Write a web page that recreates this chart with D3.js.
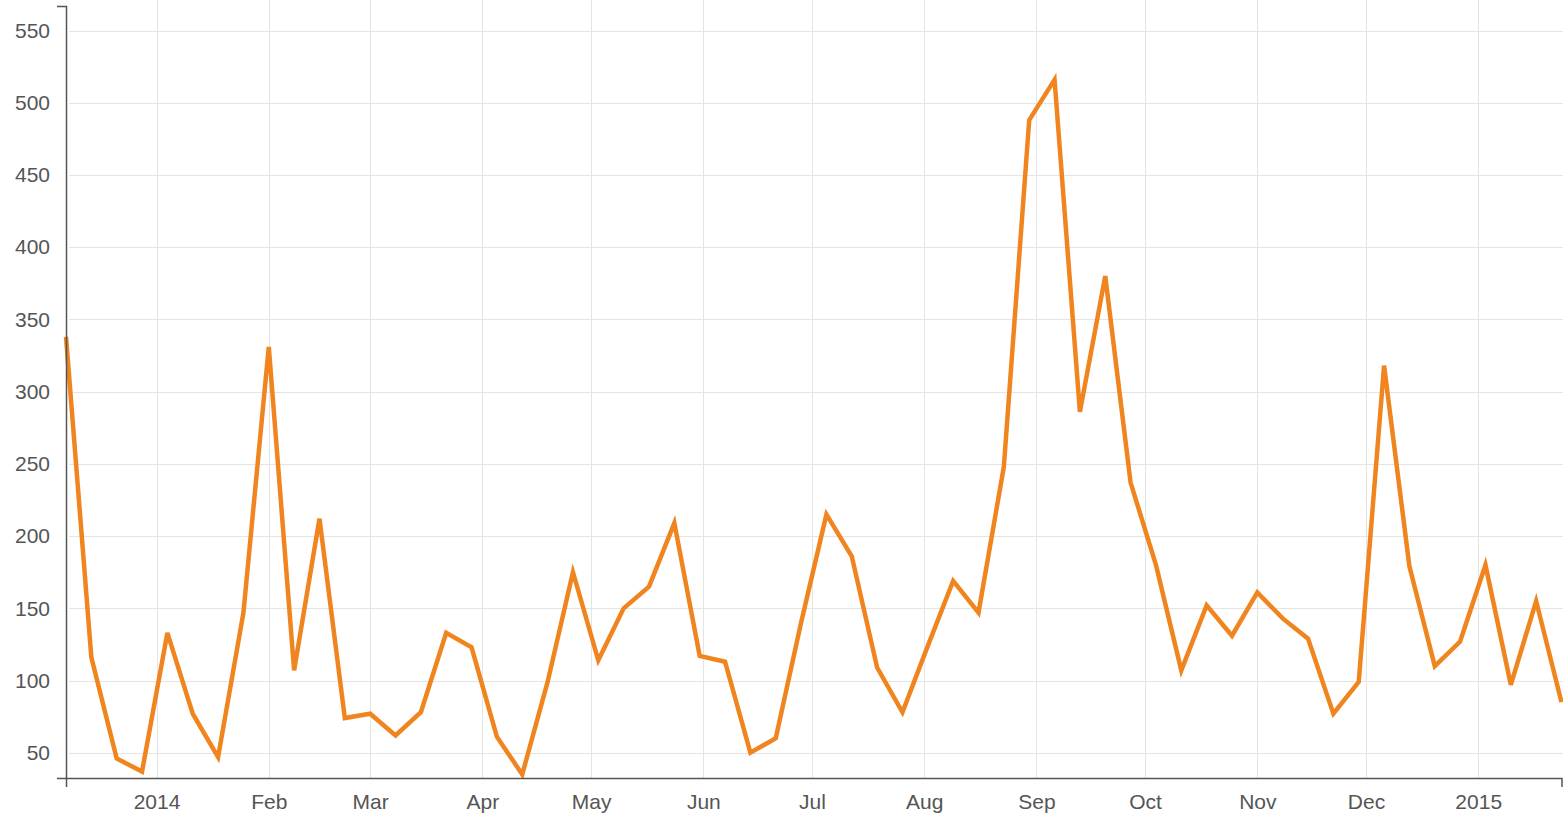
<!DOCTYPE html>
<html>
<head>
<meta charset="utf-8">
<script src="https://cdn.jsdelivr.net/npm/d3@7"></script>
<style>
  html, body { margin: 0; padding: 0; background: #fff; }
  svg { display: block; }
  .axis text { font-family: "Liberation Sans", Arial, sans-serif; font-size: 21px; fill: #555; }
  .axis path, .axis line { stroke: #555; stroke-width: 1.5; }
</style>
</head>
<body>
<svg id="chart"></svg>
<script>
// weekly dates (Saturdays)
const weeks = [
  "2013-12-07", "2013-12-14", "2013-12-21", "2013-12-28",
  "2014-01-04", "2014-01-11", "2014-01-18", "2014-01-25",
  "2014-02-01", "2014-02-08", "2014-02-15", "2014-02-22",
  "2014-03-01", "2014-03-08", "2014-03-15", "2014-03-22", "2014-03-29",
  "2014-04-05", "2014-04-12", "2014-04-19", "2014-04-26",
  "2014-05-03", "2014-05-10", "2014-05-17", "2014-05-24", "2014-05-31",
  "2014-06-07", "2014-06-14", "2014-06-21", "2014-06-28",
  "2014-07-05", "2014-07-12", "2014-07-19", "2014-07-26",
  "2014-08-02", "2014-08-09", "2014-08-16", "2014-08-23", "2014-08-30",
  "2014-09-06", "2014-09-13", "2014-09-20", "2014-09-27",
  "2014-10-04", "2014-10-11", "2014-10-18", "2014-10-25",
  "2014-11-01", "2014-11-08", "2014-11-15", "2014-11-22", "2014-11-29",
  "2014-12-06", "2014-12-13", "2014-12-20", "2014-12-27",
  "2015-01-03", "2015-01-10", "2015-01-17", "2015-01-24"
];

const counts = [
  338, 116, 46, 37, 133, 77, 47, 147,
  331, 107, 212, 74, 77, 62, 78, 133,
  123, 61, 35, 99, 175, 114, 150, 165,
  209, 117, 113, 50, 60, 140, 215, 186,
  109, 78, 124, 169, 147, 248, 488, 516,
  286, 380, 237, 180, 107, 152, 131, 161,
  143, 129, 77, 99, 318, 179, 110, 127,
  180, 97, 155, 85
];

const yTicks = [50, 100, 150, 200, 250, 300, 350, 400, 450, 500, 550];
const monthLabels = ["2014", "Feb", "Mar", "Apr", "May", "Jun", "Jul", "Aug", "Sep", "Oct", "Nov", "Dec", "2015"];
const monthTicks = [
  "2014-01-01", "2014-02-01", "2014-03-01", "2014-04-01", "2014-05-01", "2014-06-01",
  "2014-07-01", "2014-08-01", "2014-09-01", "2014-10-01", "2014-11-01", "2014-12-01", "2015-01-01"
];

const width = 1563;
const height = 816;
const margin = { top: 6, right: 1.5, bottom: 38, left: 66 };

const parse = d3.timeParse("%Y-%m-%d");
const data = weeks.map((d, i) => ({ date: parse(d), value: counts[i] }));
const tickDates = monthTicks.map(parse);

const svg = d3.select("#chart").attr("width", width).attr("height", height);

const x = d3.scaleTime()
  .domain(d3.extent(data, d => d.date))
  .range([margin.left, width - margin.right]);

const y = d3.scaleLinear()
  .domain([32.5, 567])
  .range([height - margin.bottom, margin.top]);

// grid
const grid = svg.append("g").attr("stroke", "#e4e4e4").attr("stroke-width", 1);
grid.selectAll("line.h")
  .data(yTicks)
  .join("line")
  .attr("class", "h")
  .attr("x1", margin.left + 3)
  .attr("x2", width)
  .attr("y1", d => Math.round(y(d)) + 0.5)
  .attr("y2", d => Math.round(y(d)) + 0.5);
grid.selectAll("line.v")
  .data(tickDates)
  .join("line")
  .attr("class", "v")
  .attr("x1", d => Math.round(x(d)) + 0.5)
  .attr("x2", d => Math.round(x(d)) + 0.5)
  .attr("y1", 0)
  .attr("y2", height - margin.bottom);

// line
const line = d3.line()
  .x(d => x(d.date))
  .y(d => y(d.value));

svg.append("path")
  .datum(data)
  .attr("fill", "none")
  .attr("stroke", "#f0851f")
  .attr("stroke-width", 4.5)
  .attr("stroke-linejoin", "miter")
  .attr("d", line);

// axes
const xAxis = d3.axisBottom(x)
  .tickValues(tickDates)
  .tickFormat((d, i) => monthLabels[i])
  .tickSizeInner(0)
  .tickSizeOuter(9)
  .tickPadding(16);

svg.append("g")
  .attr("class", "axis")
  .attr("transform", `translate(0,${height - margin.bottom})`)
  .call(xAxis);

const yAxis = d3.axisLeft(y)
  .tickValues(yTicks)
  .tickSizeInner(0)
  .tickSizeOuter(9)
  .tickPadding(16);

svg.append("g")
  .attr("class", "axis")
  .attr("transform", `translate(${margin.left},0)`)
  .call(yAxis);
</script>
</body>
</html>
